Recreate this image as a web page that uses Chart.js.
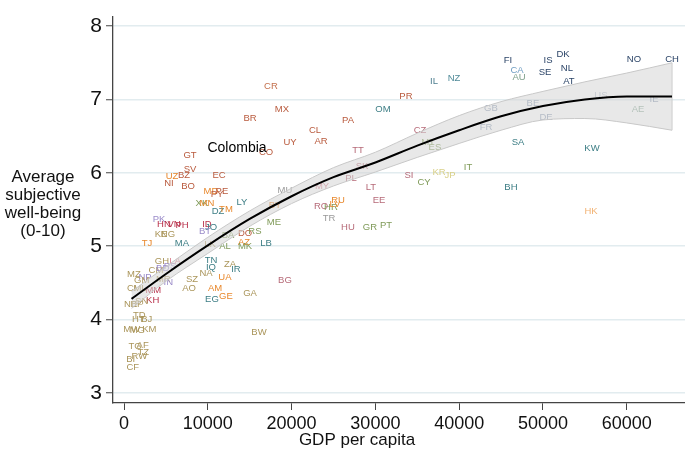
<!DOCTYPE html>
<html>
<head>
<meta charset="utf-8">
<script src="https://cdn.jsdelivr.net/npm/chart.js@4"></script>
<style>
  html, body { margin: 0; padding: 0; background: #fff; }
  #wrap { width: 685px; height: 450px; }
</style>
</head>
<body>
<div id="wrap"><canvas id="chart" width="685" height="450"></canvas></div>
<script>
// country codes, GDP per capita and average well-being
const countries = [
  "NO","CH","DK","IS","FI","NL","CA","SE","AU","AT","NZ","IL","PR","CR","OM","MX","BR","PA",
  "US","IE","GB","BE","AE","DE","FR","CL","CZ","AR","UY","SA","MT","ES","KW","TT","CO","GT",
  "SK","IT","SV","KR","JP","UZ","BZ","NI","EC","SI","PL","CY","BO","MY","LT","MU","BH","MD",
  "PE","PY","EE","RU","LY","BY","XK","MN","RO","HR","LV","DZ","TM","HK","ME","TR","PK","HN",
  "VN","PH","ID","JO","BT","HU","GR","PT","BA","DO","RS","KE","NG","TJ","MA","LK","AL","AZ",
  "MK","LB","GH","LA","TN","IQ","ZA","IR","NA","MZ","SZ","UA","BG","AO","AM","GA","EG","GE",
  "BW","CM","BD","PS","NP","GM","MR","IN","CI","ML","KH","MM","NE","BF","SN","TD","HT","BJ",
  "MW","MG","KM","TG","AF","TZ","RW","BI","CF"
];
const gdp = [
  60860,65400,52390,50600,45820,52860,46900,50240,47140,53100,39380,36990,33650,17540,30910,18850,15040,26730,
  56920,63250,43790,48800,61340,50360,43200,22790,35320,23510,19810,47020,36280,37110,55850,27920,16950,7880,
  28400,41050,7880,37590,38900,5730,7160,5370,11340,34010,27090,35800,7640,23630,29470,19210,46180,10380,
  11690,11100,30430,25540,14080,18020,9300,9900,23510,24700,25180,11220,12170,55730,17900,24460,4180,4770,
  5970,6920,9900,10380,9670,26730,29350,31270,12410,14440,15630,4420,5250,2740,6920,10260,12050,14320,
  14440,16950,4530,6090,10380,10380,12650,13360,9790,1190,8110,12050,19210,7760,10860,15040,10500,12170,
  16110,3820,4620,5490,2510,2110,4690,5290,920,1910,3420,3500,800,1510,2110,1830,1710,2710,
  920,1590,3020,1310,2230,2310,1830,800,1040
];
const wellBeing = [
  7.55,7.55,7.61,7.53,7.53,7.43,7.39,7.37,7.30,7.25,7.29,7.24,7.04,7.18,6.86,6.86,6.74,6.72,
  7.05,7.00,6.88,6.95,6.87,6.75,6.62,6.58,6.58,6.43,6.41,6.42,6.41,6.34,6.33,6.30,6.28,6.24,
  6.09,6.07,6.04,6.01,5.96,5.95,5.96,5.86,5.96,5.96,5.92,5.87,5.82,5.82,5.80,5.76,5.80,5.74,
  5.75,5.70,5.63,5.63,5.59,5.55,5.58,5.58,5.54,5.53,5.57,5.47,5.50,5.47,5.33,5.38,5.37,5.29,
  5.29,5.28,5.30,5.25,5.20,5.25,5.26,5.28,5.14,5.18,5.20,5.16,5.16,5.04,5.04,5.03,4.99,5.05,
  5.00,5.04,4.79,4.79,4.80,4.71,4.75,4.68,4.63,4.62,4.54,4.58,4.53,4.42,4.42,4.36,4.28,4.32,
  3.82,4.67,4.69,4.73,4.57,4.53,4.54,4.50,4.42,4.43,4.26,4.39,4.20,4.20,4.25,4.06,4.00,4.00,
  3.87,3.85,3.87,3.63,3.65,3.55,3.49,3.46,3.35
];

// fitted curve and its confidence band
const fitX = [900, 5000, 10000, 15000, 20000, 25000, 30000, 35000, 40000, 45000, 50000, 55000, 60000, 65400];
const fitY = [4.28, 4.62, 5.01, 5.37, 5.68, 5.94, 6.14, 6.37, 6.58, 6.77, 6.91, 7.00, 7.04, 7.04];
const ciHigh = [4.38, 4.72, 5.12, 5.48, 5.79, 6.07, 6.28, 6.54, 6.78, 6.97, 7.11, 7.24, 7.36, 7.50];
const ciLow = [4.15, 4.52, 4.90, 5.27, 5.58, 5.82, 6.01, 6.21, 6.40, 6.58, 6.72, 6.74, 6.68, 6.58];

const yTicks = [3, 4, 5, 6, 7, 8];
const xTicks = [0, 10000, 20000, 30000, 40000, 50000, 60000];

// country groups (only used to pick a colour)
const groups = {
  nordic: ["NO","CH","DK","IS","FI","NL","SE","AT"],
  west: ["GB","FR","BE","DE","IE"],
  latam: ["MX","BR","PA","CL","AR","UY","GT","SV","BZ","EC","BO","NI","PE","PY","DO","CO","PR","CR"],
  cis: ["UZ","MD","RU","UA","AM","AZ","BY","TJ","TM","LV","GE","MN"],
  east: ["CZ","SK","PL","LT","EE","SI","HU","RO","BG","TT"],
  south: ["MT","ES","CY","GR","PT","IT","ME","AL","MK","HR","BA","RS","XK"],
  mena: ["OM","SA","KW","BH","LY","DZ","TN","IQ","LB","MA","JO","EG","IR"],
  asiaRed: ["HN","VN","PH","ID","KH","MM"],
  asiaLav: ["PK","BT","IN","NP","PS","BD"],
  africa: ["MZ","GH","NA","SZ","AO","BW","ZA","GA","CM","GM","CI","ML","NE","BF","SN","TD","HT","BJ",
           "MW","MG","KM","TG","AF","TZ","RW","BI","CF","KE","NG","MR","LK"]
};
const groupColor = {
  nordic: "#2c4568", west: "#8d9db5", latam: "#b95a3d", cis: "#e8882c", east: "#b66a78",
  south: "#7f9a58", mena: "#3d7e85", asiaRed: "#b8304a", asiaLav: "#9a8bc9", africa: "#aa955a"
};
const singleColor = {
  US: "#b8c1ce", CA: "#6f9dc2", AU: "#7fa08b", NZ: "#4f8a98", IL: "#4e7e90", AE: "#8dab9a",
  JP: "#d9d088", KR: "#d9d088", HK: "#f2b272", LA: "#dd8091", MY: "#d27c8b", CR: "#c4714e"
};
function colorFor(code) {
  if (singleColor[code]) return singleColor[code];
  for (const g in groups) if (groups[g].includes(code)) return groupColor[g];
  return "#999";
}

const FONT = "'Liberation Sans', Arial, sans-serif";

// country code labels go under the band, as in the original
const countryLabels = {
  id: "countryLabels",
  beforeDatasetsDraw(chart) {
    const { ctx, scales: { x, y } } = chart;
    ctx.save();
    ctx.font = "9.5px " + FONT;
    ctx.textAlign = "center";
    ctx.textBaseline = "middle";
    countries.forEach((c, i) => {
      ctx.fillStyle = colorFor(c);
      ctx.fillText(c, x.getPixelForValue(gdp[i]), y.getPixelForValue(wellBeing[i]));
    });
    ctx.restore();
  }
};

const extraText = {
  id: "extraText",
  afterDraw(chart) {
    const { ctx, scales: { x, y } } = chart;
    ctx.save();
    ctx.fillStyle = "#000";
    ctx.textAlign = "center";
    ctx.textBaseline = "middle";
    ctx.font = "14px " + FONT;
    ctx.fillText("Colombia", x.getPixelForValue(13485), y.getPixelForValue(6.34));
    ctx.fillStyle = "#111";
    ctx.font = "17px " + FONT;
    ["Average", "subjective", "well-being", "(0-10)"].forEach((t, i) => {
      ctx.fillText(t, 43, 177 + i * 18);
    });
    ctx.fillText("GDP per capita", 357, 440);
    ctx.restore();
  }
};

const pts = (xs, ys) => xs.map((v, i) => ({ x: v, y: ys[i] }));
const last = fitX.length - 1;

// dataset 0 is drawn last (on top)
new Chart(document.getElementById("chart"), {
  type: "scatter",
  data: {
    datasets: [
      {
        type: "line",
        data: pts(fitX, fitY),
        borderColor: "#000",
        borderWidth: 2,
        pointRadius: 0,
        cubicInterpolationMode: "monotone",
        fill: false
      },
      {
        type: "line",
        data: pts(fitX, ciLow),
        borderColor: "#c8c8c8",
        borderWidth: 1,
        pointRadius: 0,
        cubicInterpolationMode: "monotone",
        fill: false
      },
      {
        type: "line",
        data: pts(fitX, ciHigh),
        borderColor: "#c8c8c8",
        borderWidth: 1,
        backgroundColor: "rgba(214,214,214,0.55)",
        pointRadius: 0,
        cubicInterpolationMode: "monotone",
        fill: 1
      },
      {
        type: "line",
        data: [{ x: fitX[last], y: ciLow[last] }, { x: fitX[last], y: ciHigh[last] }],
        borderColor: "#c8c8c8",
        borderWidth: 1,
        pointRadius: 0,
        fill: false
      }
    ]
  },
  options: {
    responsive: false,
    animation: false,
    layout: { padding: { top: 3, right: 0, left: 0, bottom: 0 } },
    plugins: { legend: { display: false }, tooltip: { enabled: false } },
    scales: {
      x: {
        type: "linear",
        min: -1313,
        max: 66950,
        afterFit(s) { s.height = 47; },
        afterBuildTicks(s) { s.ticks = xTicks.map(v => ({ value: v })); },
        ticks: { color: "#111", font: { family: FONT, size: 18 }, padding: 3, maxRotation: 0, callback: v => String(v) },
        grid: { drawOnChartArea: false, drawTicks: true, tickLength: 7, tickColor: "#444", tickWidth: 1 },
        border: { color: "#444", width: 1.3 }
      },
      y: {
        min: 2.86,
        max: 8.13,
        afterFit(s) { s.width = 113; },
        afterBuildTicks(s) { s.ticks = yTicks.map(v => ({ value: v })); },
        ticks: { color: "#111", font: { family: FONT, size: 21 }, padding: 4, callback: v => String(v) },
        grid: { color: "#e2ecef", lineWidth: 1.5, drawTicks: true, tickLength: 7, tickColor: "#444", tickWidth: 1 },
        border: { color: "#444", width: 1.3 }
      }
    }
  },
  plugins: [countryLabels, extraText]
});
</script>
</body>
</html>
